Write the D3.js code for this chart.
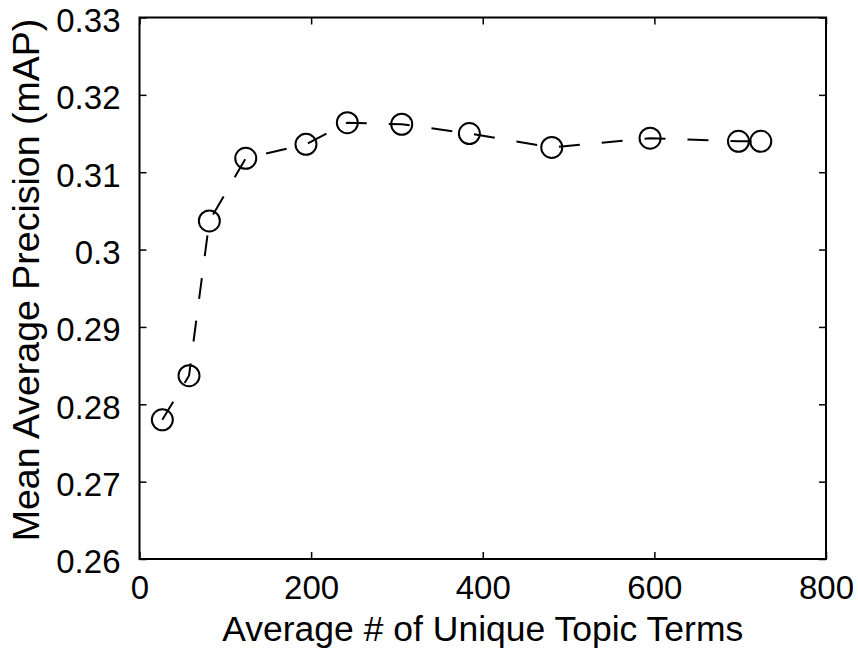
<!DOCTYPE html>
<html>
<head>
<meta charset="utf-8">
<script src="https://cdn.jsdelivr.net/npm/d3@7"></script>
<style>
html,body{margin:0;padding:0;background:#fff;}
svg{display:block;}
text{font-family:"Liberation Sans",Arial,Helvetica,sans-serif;fill:#000;}
</style>
</head>
<body>
<script>
const termsX = [26.6, 57.7, 81.4, 123.8, 194, 242.2, 305.6, 384.4, 480.4, 595, 698, 724];
const mapY = [0.2780, 0.2837, 0.3037, 0.3118, 0.3136, 0.3164, 0.3162, 0.3150, 0.3132, 0.3144, 0.3140, 0.3140];
const xTicks = [0, 200, 400, 600, 800];
const yTicks = [0.26, 0.27, 0.28, 0.29, 0.30, 0.31, 0.32, 0.33];
const xLabel = "Average # of Unique Topic Terms";
const yLabel = "Mean Average Precision (mAP)";

const W = 858, H = 654;
const m = {left: 139.5, right: 858 - 826, top: 17.5, bottom: 654 - 559};
const svg = d3.select("body").append("svg").attr("width", W).attr("height", H);

const x = d3.scaleLinear().domain([0, 800]).range([m.left, W - m.right]);
const y = d3.scaleLinear().domain([0.26, 0.33]).range([H - m.bottom, m.top]);
const fs = 33;
const fsLabel = 35.5;
const fsYLabel = 37.5;
const tickLen = 7;

// line
const line = d3.line().x((d, i) => x(termsX[i])).y(d => y(d));
svg.append("path").datum(mapY).attr("d", line)
  .attr("fill", "none").attr("stroke", "#000").attr("stroke-width", 2)
  .attr("stroke-dasharray", "21,22");

// markers
svg.selectAll("circle.pt").data(mapY).join("circle").attr("class", "pt")
  .attr("cx", (d, i) => x(termsX[i])).attr("cy", d => y(d)).attr("r", 10.5)
  .attr("fill", "none").attr("stroke", "#000").attr("stroke-width", 2);

// axes with inward ticks
const fmtY = d => String(+d.toFixed(2));
const gB = svg.append("g").attr("transform", `translate(0,${H - m.bottom})`)
  .call(d3.axisBottom(x).tickValues(xTicks).tickSize(-tickLen).tickPadding(tickLen + 10).tickFormat(d3.format("d")));
const gT = svg.append("g").attr("transform", `translate(0,${m.top})`)
  .call(d3.axisTop(x).tickValues(xTicks).tickSize(-tickLen).tickFormat(""));
const gL = svg.append("g").attr("transform", `translate(${m.left},0)`)
  .call(d3.axisLeft(y).tickValues(yTicks).tickSize(-tickLen).tickPadding(tickLen + 12).tickFormat(fmtY));
const gR = svg.append("g").attr("transform", `translate(${W - m.right},0)`)
  .call(d3.axisRight(y).tickValues(yTicks).tickSize(-tickLen).tickFormat(""));

[gB, gT, gL, gR].forEach(g => {
  g.select(".domain").remove();
  g.selectAll(".tick line").attr("stroke", "#000").attr("stroke-width", 1.5);
  g.selectAll("text").attr("font-size", fs).attr("font-family", "Liberation Sans, Arial, sans-serif").attr("fill", "#000");
});
gB.selectAll(".tick text").attr("dy", "0.71em");
gL.selectAll(".tick text").attr("dy", "0.42em");

// box
svg.append("rect").attr("x", x(0)).attr("y", y(0.33))
  .attr("width", x(800) - x(0)).attr("height", y(0.26) - y(0.33))
  .attr("fill", "none").attr("stroke", "#000").attr("stroke-width", 2);

// labels
svg.append("text").attr("x", (x(0) + x(800)) / 2).attr("y", 641)
  .attr("text-anchor", "middle").attr("font-size", fsLabel).text(xLabel);
svg.append("text").attr("transform", `translate(39,280) rotate(-90)`)
  .attr("text-anchor", "middle").attr("font-size", fsYLabel).text(yLabel);
</script>
</body>
</html>
